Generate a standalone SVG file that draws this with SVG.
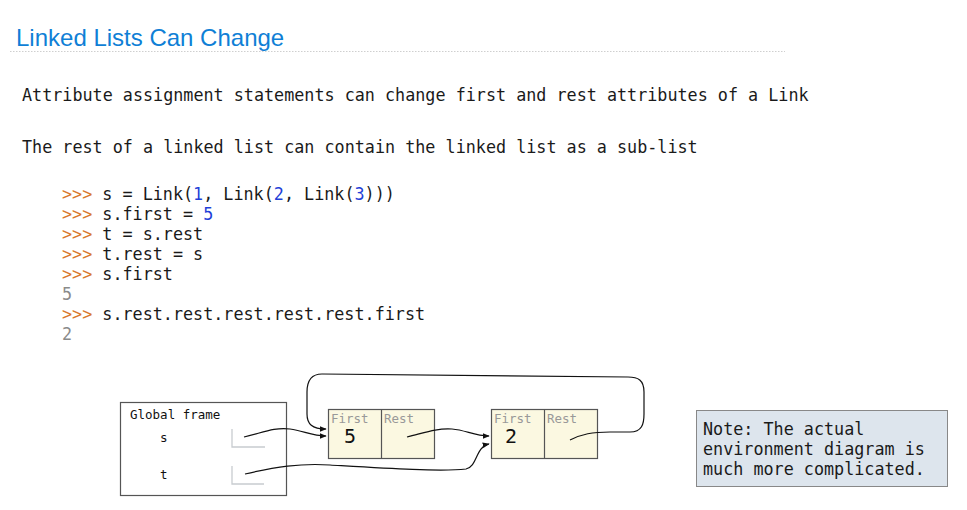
<svg xmlns="http://www.w3.org/2000/svg" width="967" height="510" viewBox="0 0 967 510">
<style>
.mono{font-family:"DejaVu Sans Mono",monospace;}
.txt{font-size:16.75px;fill:#1a1a1a;}
.p{fill:#d9782d;}
.num{fill:#1f3fd8;}
.out{fill:#8a8a8a;}
.lnk{fill:#fbf8e1;stroke:#555;stroke-width:1.2;}
.lbl{font-size:12.5px;fill:#999;}
.val{font-size:20px;fill:#111;}
.ptr{fill:none;stroke:#c8ccd0;stroke-width:1.3;}
.con{fill:none;stroke:#111;stroke-width:1.2;marker-end:url(#ah);}
</style>
<defs>
<marker id="ah" viewBox="0 0 10 10" refX="9" refY="5" markerWidth="7" markerHeight="7" markerUnits="userSpaceOnUse" orient="auto">
<path d="M0,1 L10,5 L0,9 Z" fill="#111"/>
</marker>
</defs>
<rect width="967" height="510" fill="#fff"/>
<text x="16" y="46" font-family="Liberation Sans,Arial,sans-serif" font-size="24" fill="#0f7fd6">Linked Lists Can Change</text>
<line x1="10" y1="51.5" x2="785" y2="51.5" stroke="#cfcfcf" stroke-width="1" stroke-dasharray="1.5,1.5"/>
<text class="mono txt" x="22" y="101">Attribute assignment statements can change first and rest attributes of a Link</text>
<text class="mono txt" x="22" y="153">The rest of a linked list can contain the linked list as a sub-list</text>
<g class="mono txt">
<text x="62" y="200"><tspan class="p">&gt;&gt;&gt;</tspan> s = Link(<tspan class="num">1</tspan>, Link(<tspan class="num">2</tspan>, Link(<tspan class="num">3</tspan>)))</text>
<text x="62" y="220"><tspan class="p">&gt;&gt;&gt;</tspan> s.first = <tspan class="num">5</tspan></text>
<text x="62" y="240"><tspan class="p">&gt;&gt;&gt;</tspan> t = s.rest</text>
<text x="62" y="260"><tspan class="p">&gt;&gt;&gt;</tspan> t.rest = s</text>
<text x="62" y="280"><tspan class="p">&gt;&gt;&gt;</tspan> s.first</text>
<text x="62" y="300" class="out">5</text>
<text x="62" y="320"><tspan class="p">&gt;&gt;&gt;</tspan> s.rest.rest.rest.rest.rest.first</text>
<text x="62" y="340" class="out">2</text>
</g>
<g id="global-frame">
<rect x="120.5" y="402.5" width="166" height="93" fill="#fff" stroke="#555" stroke-width="1.2"/>
<text class="mono" x="130" y="419" font-size="12.5" fill="#111">Global frame</text>
<text class="mono" x="160" y="442" font-size="12.5" fill="#111">s</text>
<text class="mono" x="160" y="479" font-size="12.5" fill="#111">t</text>
<path class="ptr" d="M232,429 V447 H265"/>
<path class="ptr" d="M232,466 V484 H264"/>
</g>
<g id="link1">
<rect class="lnk" x="328.5" y="409.5" width="106" height="49"/>
<line x1="381.5" y1="409.5" x2="381.5" y2="458.5" stroke="#555" stroke-width="1.2"/>
<text class="mono lbl" x="331" y="423">First</text>
<text class="mono lbl" x="384" y="423">Rest</text>
<text class="mono val" x="344" y="443">5</text>
</g>
<g id="link2">
<rect class="lnk" x="491.5" y="409.5" width="106" height="49"/>
<line x1="544.5" y1="409.5" x2="544.5" y2="458.5" stroke="#555" stroke-width="1.2"/>
<text class="mono lbl" x="494" y="423">First</text>
<text class="mono lbl" x="547" y="423">Rest</text>
<text class="mono val" x="505" y="443">2</text>
</g>
<g id="note">
<rect x="696.5" y="410.5" width="251" height="76" fill="#dde5ed" stroke="#888" stroke-width="1"/>
<text class="mono txt" x="703" y="435">Note: The actual</text>
<text class="mono txt" x="703" y="455">environment diagram is</text>
<text class="mono txt" x="703" y="475">much more complicated.</text>
</g>
<g id="connectors">
<path class="con" d="M244,437 C262,433 274,427 290,429 C304,431 312,436 326,436"/>
<path class="con" d="M407,437 C424,433 436,428 452,429 C466,430 474,436 489,436"/>
<path class="con" d="M245,474 C275,467 300,463 330,465 C380,468 440,472 466,469 C478,466 475,447 489,444"/>
<path class="con" d="M570,440 C582,434 592,432 610,432 L630,432 C642,432 644,424 644,414 L644,392 C644,380 638,377 628,377 L322,374 C310,374 307,382 307,392 L307,414 C307,424 312,429 326,429"/>
</g>
</svg>
